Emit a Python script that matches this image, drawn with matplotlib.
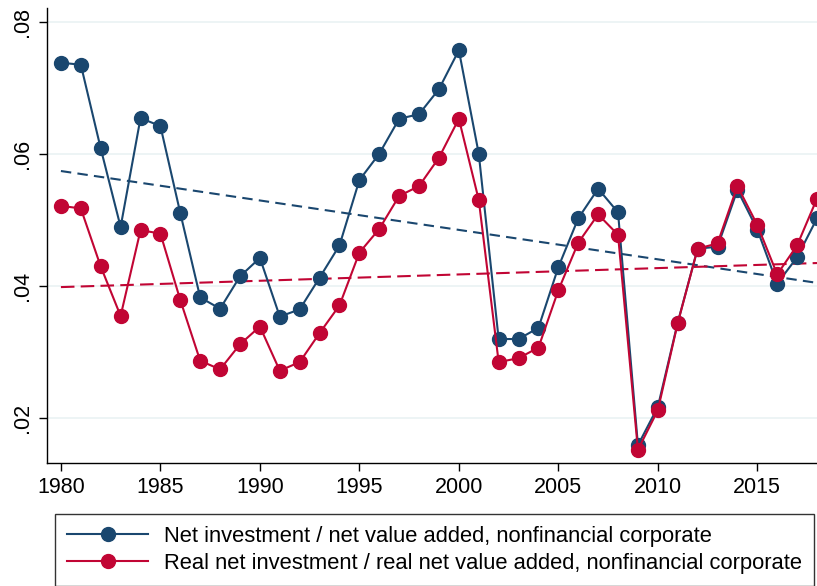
import numpy as np
import matplotlib
matplotlib.use("Agg")
import matplotlib.pyplot as plt
from matplotlib.ticker import FuncFormatter

years = list(range(1980, 2019))
net_inv = [0.0738, 0.0735, 0.0608, 0.0489, 0.0654, 0.0642, 0.0510, 0.0382, 0.0365, 0.0414,
           0.0442, 0.0353, 0.0364, 0.0412, 0.0461, 0.0560, 0.0600, 0.0653, 0.0660, 0.0698,
           0.0757, 0.0600, 0.0319, 0.0319, 0.0336, 0.0428, 0.0502, 0.0547, 0.0511, 0.0158,
           0.0216, 0.0344, 0.0456, 0.0459, 0.0545, 0.0485, 0.0403, 0.0443, 0.0502]
real_net_inv = [0.0521, 0.0517, 0.0429, 0.0354, 0.0484, 0.0479, 0.0378, 0.0286, 0.0273, 0.0311,
                0.0338, 0.0271, 0.0284, 0.0328, 0.0370, 0.0450, 0.0486, 0.0536, 0.0551, 0.0594,
                0.0653, 0.0530, 0.0284, 0.0290, 0.0306, 0.0393, 0.0465, 0.0508, 0.0477, 0.0151,
                0.0211, 0.0343, 0.0456, 0.0464, 0.0551, 0.0492, 0.0417, 0.0461, 0.0532]
labels = ["Net investment / net value added, nonfinancial corporate",
          "Real net investment / real net value added, nonfinancial corporate"]
xticks = [1980, 1985, 1990, 1995, 2000, 2005, 2010, 2015]
yticks = [0.02, 0.04, 0.06, 0.08]

BLUE = "#1a476f"
RED = "#c10534"
plt.rcParams['font.family'] = ['Liberation Sans', 'DejaVu Sans']

fig = plt.figure(figsize=(8.17, 5.86), dpi=100)
ax = fig.add_axes([47/817, 1 - 463/586, 1 - 47/817, (463 - 8)/586])

x = np.array(years, dtype=float)
for ys, c, d in [(net_inv, BLUE, (5, 3)), (real_net_inv, RED, (6.5, 3))]:
    b, a = np.polyfit(x, np.array(ys), 1)
    ax.plot(x, a + b * x, color=c, lw=1.5, dashes=d, zorder=2)

ax.plot(years, net_inv, color=BLUE, lw=1.5, marker='o', ms=10, zorder=3, label=labels[0])
ax.plot(years, real_net_inv, color=RED, lw=1.5, marker='o', ms=10, zorder=4, label=labels[1])

ax.set_xlim(1979.3, 2018.0)
ax.set_ylim(0.0131, 0.0821)
ax.set_xticks(xticks)
ax.set_yticks(yticks)
ax.yaxis.set_major_formatter(FuncFormatter(lambda v, p: ("%.2f" % v).lstrip("0")))
ax.grid(axis='y', color="#eaf2f3", lw=1.2, zorder=0)
ax.set_axisbelow(True)
for s in ['top', 'right']:
    ax.spines[s].set_visible(False)
for s in ['left', 'bottom']:
    ax.spines[s].set_color('black')
    ax.spines[s].set_linewidth(1.0)
ax.tick_params(axis='both', direction='out', length=6, width=1.0, colors='black', labelsize=15.5)
ax.tick_params(axis='x', pad=4)
ax.tick_params(axis='y', pad=4)
for t in ax.get_yticklabels():
    t.set_rotation(90)
    t.set_va('center')

leg = fig.legend(loc='upper left', bbox_to_anchor=(55/817, 1 - 514/586), ncol=1,
                 fontsize=15.8, frameon=True, fancybox=False, edgecolor='black',
                 borderaxespad=0, handlelength=3.7, borderpad=0.55, labelspacing=0.25,
                 handletextpad=0.7)
leg.get_frame().set_linewidth(1.0)
for h in leg.legend_handles:
    h.set_markersize(10)

fig.savefig("out.png", dpi=100)
